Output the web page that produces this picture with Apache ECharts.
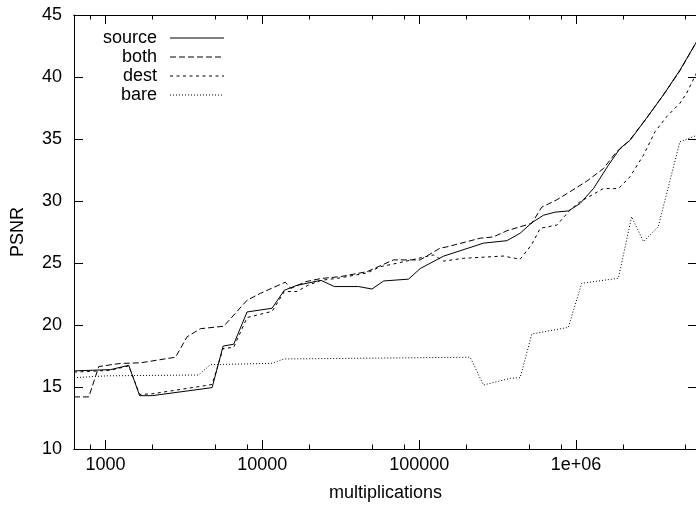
<!DOCTYPE html>
<html>
<head>
<meta charset="utf-8">
<script src="https://cdn.jsdelivr.net/npm/echarts@6/dist/echarts.min.js"></script>
<style>
html,body{margin:0;padding:0;background:#fff;}
#main{width:696px;height:511px;}
</style>
</head>
<body>
<div id="main"></div>
<script>
// tick values on the log axis
var xTicks = [1000, 10000, 100000, 1000000];
var xMinorTicks = [800, 2000, 5000, 8000, 20000, 50000, 80000, 200000, 500000, 800000, 2000000, 5000000];

// source
var sourceX = [630, 1076, 1407, 1652, 1983, 4783, 5623, 6568, 7990, 11530, 13800, 16630, 23660, 28760, 41060, 49990, 59290, 85500, 101400, 142800, 256700, 361900, 439700, 522000, 619600, 735000, 893000, 1060000, 1290000, 1610000, 1910000, 2210000, 2820000, 3600000, 4590000, 5900000];
var sourceY = [16.3, 16.4, 16.75, 14.3, 14.3, 14.95, 18.3, 18.45, 21.05, 21.35, 22.8, 23.2, 23.6, 23.1, 23.1, 22.9, 23.55, 23.7, 24.55, 25.55, 26.6, 26.8, 27.4, 28.25, 28.85, 29.1, 29.2, 29.8, 31.0, 32.9, 34.25, 34.9, 36.7, 38.55, 40.55, 42.9];
// both
var bothX = [630, 783, 906, 1246, 1672, 2793, 3315, 4028, 5674, 7995, 9710, 14000, 15200, 19000, 23660, 31400, 46500, 68600, 101400, 136000, 150000, 245000, 297000, 362000, 522000, 604000, 754000, 916000, 1170000, 1490000, 1820000, 2000000, 2210000, 2820000, 3600000, 4590000, 5900000];
var bothY = [14.2, 14.2, 16.65, 16.9, 16.95, 17.4, 19.05, 19.7, 19.9, 22.0, 22.55, 23.45, 22.95, 23.5, 23.75, 23.9, 24.3, 25.25, 25.25, 26.2, 26.3, 27.0, 27.1, 27.6, 28.2, 29.5, 30.1, 30.75, 31.6, 32.6, 34.0, 34.4, 34.95, 36.7, 38.55, 40.5, 42.9];
// dest
var destX = [630, 1076, 1407, 1652, 1983, 4783, 5623, 6568, 7990, 11530, 13800, 16630, 19500, 23660, 31400, 46500, 56500, 72100, 123000, 143000, 191600, 344000, 440000, 522000, 591000, 754000, 916000, 1060000, 1490000, 1860000, 2210000, 2690000, 3190000, 3780000, 4590000, 5070000, 5900000];
var destY = [16.2, 16.35, 16.7, 14.4, 14.45, 15.2, 18.1, 18.2, 20.6, 21.1, 22.7, 22.7, 23.2, 23.6, 23.8, 24.2, 24.7, 24.98, 25.65, 25.15, 25.38, 25.56, 25.3, 26.5, 27.8, 28.06, 29.27, 29.94, 31.0, 31.0, 31.96, 33.7, 35.6, 36.8, 37.88, 38.7, 40.4];
// bare
var bareX = [630, 1025, 3927, 4667, 11530, 13680, 211300, 256800, 380000, 440000, 522000, 893000, 1086000, 1860000, 2260000, 2690000, 3340000, 4590000, 5900000];
var bareY = [15.75, 15.9, 15.97, 16.8, 16.91, 17.26, 17.4, 15.16, 15.7, 15.75, 19.27, 19.81, 23.36, 23.77, 28.73, 26.72, 27.93, 34.78, 35.3];

var FONT = '"Liberation Sans", Arial, sans-serif';
var X_MIN = 630, X_MAX = 5900000;

var pairs = function(xs, ys){
	var out = [];
	for (var i = 0; i < xs.length; i++) {
		out.push([xs[i], ys[i]]);
	}
	return out;
};

var mkSeries = function(name, xs, ys, dash){
	return {
		name: name,
		type: 'line',
		xAxisIndex: 0,
		yAxisIndex: 0,
		data: pairs(xs, ys),
		symbol: 'none',
		silent: true,
		itemStyle: {color: '#000'},
		lineStyle: {color: '#000', width: 1, type: dash}
	};
};

// log x axis, one copy for major ticks and one for minor ticks, on both sides
var mkXAxis = function(pos, ticks, len, withLabel){
	return {
		type: 'log',
		logBase: 10,
		position: pos,
		min: X_MIN,
		max: X_MAX,
		axisLine: {show: true, lineStyle: {color: '#000', width: 1}},
		axisTick: {show: true, inside: true, length: len, customValues: ticks, lineStyle: {color: '#000', width: 1}},
		axisLabel: withLabel ? {
			show: true,
			customValues: xTicks,
			margin: 7,
			color: '#000',
			fontSize: 18,
			fontFamily: FONT,
			formatter: function(v){ return v >= 1000000 ? '1e+06' : String(v); }
		} : {show: false},
		splitLine: {show: false},
		minorTick: {show: false}
	};
};

var xBottom = mkXAxis('bottom', xTicks, 9, true);
xBottom.name = 'multiplications';
xBottom.nameLocation = 'middle';
xBottom.nameGap = 35;
xBottom.nameTextStyle = {color: '#000', fontSize: 18, fontFamily: FONT};

var chart = echarts.init(document.getElementById('main'));
chart.setOption({
	animation: false,
	backgroundColor: '#fff',
	grid: {left: 74, right: -1, top: 15, bottom: 62, containLabel: false, outerBoundsMode: 'none'},
	legend: {
		data: ['source', 'both', 'dest', 'bare'],
		orient: 'vertical',
		left: 98,
		top: 24,
		align: 'right',
		itemWidth: 54,
		itemHeight: 12,
		itemGap: 1,
		selectedMode: false,
		itemStyle: {opacity: 0},
		lineStyle: {width: 1},
		textStyle: {color: '#000', fontSize: 18, fontFamily: FONT, padding: [0, 8, 0, 0]}
	},
	xAxis: [
		xBottom,
		mkXAxis('bottom', xMinorTicks, 4.5, false),
		mkXAxis('top', xTicks, 9, false),
		mkXAxis('top', xMinorTicks, 4.5, false)
	],
	yAxis: [
		{
			type: 'value',
			position: 'left',
			min: 10,
			max: 45,
			interval: 5,
			name: 'PSNR',
			nameLocation: 'middle',
			nameRotate: 90,
			nameGap: 47,
			nameTextStyle: {color: '#000', fontSize: 18, fontFamily: FONT},
			axisLine: {show: true, lineStyle: {color: '#000', width: 1}},
			axisTick: {show: true, inside: true, length: 9, lineStyle: {color: '#000'}},
			axisLabel: {margin: 12, color: '#000', fontSize: 18, fontFamily: FONT},
			splitLine: {show: false}
		},
		{
			type: 'value',
			position: 'right',
			min: 10,
			max: 45,
			interval: 5,
			axisLine: {show: true, lineStyle: {color: '#000', width: 1}},
			axisTick: {show: true, inside: true, length: 9, lineStyle: {color: '#000'}},
			axisLabel: {show: false},
			splitLine: {show: false}
		}
	],
	series: [
		mkSeries('source', sourceX, sourceY, 'solid'),
		mkSeries('both', bothX, bothY, [6, 3]),
		mkSeries('dest', destX, destY, [3, 3.5]),
		mkSeries('bare', bareX, bareY, [1, 2])
	]
});
</script>
</body>
</html>
